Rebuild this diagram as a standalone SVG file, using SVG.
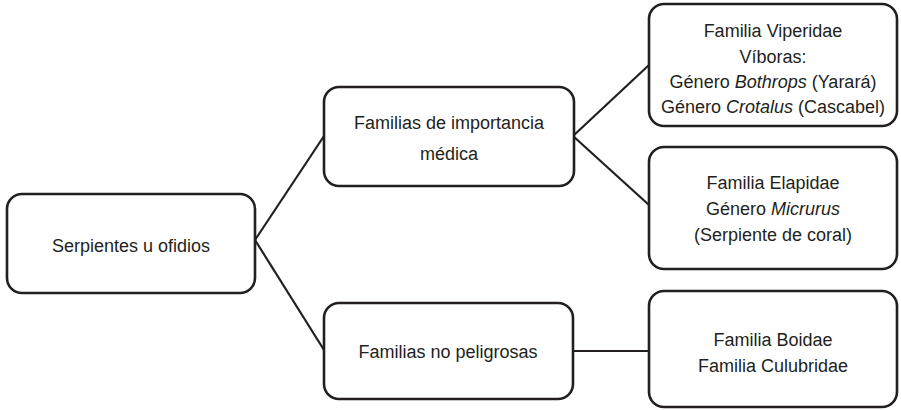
<svg xmlns="http://www.w3.org/2000/svg" width="901" height="410" viewBox="0 0 901 410">
<style>
.box{fill:#fff;stroke:#231f20;stroke-width:2.6}
.lnk{stroke:#231f20;stroke-width:2.2;fill:none}
text{font-family:"Liberation Sans",Arial,sans-serif;font-size:18px;fill:#231f20;text-anchor:middle}
.it{font-style:italic}
</style>
<rect width="901" height="410" fill="#fff"/>
<g id="connectors">
<path class="lnk" d="M255,240 L324,136"/>
<path class="lnk" d="M255,240 L324,350"/>
<path class="lnk" d="M573,136 L649,65"/>
<path class="lnk" d="M573,136 L649,205"/>
<path class="lnk" d="M573,351 L649,351"/>
</g>
<g id="serpientes">
<rect class="box" x="7" y="194" width="248" height="99" rx="15"/>
<text x="131" y="252">Serpientes u ofidios</text>
</g>
<g id="importancia">
<rect class="box" x="324" y="87" width="250" height="99" rx="15"/>
<text x="449" y="129">Familias de importancia</text>
<text x="449" y="160">médica</text>
</g>
<g id="viperidae">
<rect class="box" x="649" y="4" width="248" height="122" rx="15"/>
<text x="773" y="37">Familia Viperidae</text>
<text x="773" y="63">Víboras:</text>
<text x="773" y="88">Género <tspan class="it">Bothrops</tspan> (Yarará)</text>
<text x="773" y="113">Género <tspan class="it">Crotalus</tspan> (Cascabel)</text>
</g>
<g id="elapidae">
<rect class="box" x="649" y="147" width="248" height="122" rx="15"/>
<text x="773" y="189">Familia Elapidae</text>
<text x="773" y="215">Género <tspan class="it">Micrurus</tspan></text>
<text x="773" y="241">(Serpiente de coral)</text>
</g>
<g id="nopeligrosas">
<rect class="box" x="324" y="303" width="249" height="96" rx="15"/>
<text x="448" y="358">Familias no peligrosas</text>
</g>
<g id="boidae">
<rect class="box" x="649" y="291" width="248" height="116" rx="15"/>
<text x="773" y="346">Familia Boidae</text>
<text x="773" y="372">Familia Culubridae</text>
</g>
</svg>
